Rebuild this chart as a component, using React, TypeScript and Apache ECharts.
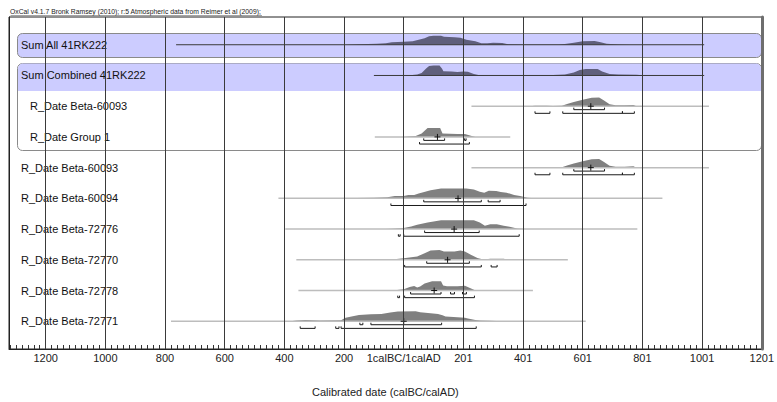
import React, { useEffect, useRef } from "react";
import * as echarts from "echarts";

const headerText =
  "OxCal v4.1.7 Bronk Ramsey (2010); r:5 Atmospheric data from Reimer et al (2009);";
const axisTitle = "Calibrated date (calBC/calAD)";

// x axis: years, negative = BC, 0 = 1calBC/1calAD boundary
const axisMin = -1323;
const axisMax = 1200;
const majorTicks = [-1200, -1000, -800, -600, -400, -200, 0, 200, 400, 600, 800, 1000, 1200];
const minorStep = 20;

const rowLabels = [
  "Sum All 41RK222",
  "Sum Combined 41RK222",
  "R_Date Beta-60093",
  "R_Date Group 1",
  "R_Date Beta-60093",
  "R_Date Beta-60094",
  "R_Date Beta-72776",
  "R_Date Beta-72770",
  "R_Date Beta-72778",
  "R_Date Beta-72771",
];
const rowKinds = ["sum", "sum", "date", "date", "date", "date", "date", "date", "date", "date"];
const rowNested = [false, false, true, true, false, false, false, false, false, false];

// extent of the (prior / likelihood) line of each row
const priorExtents: number[][] = [
  [-763, 1007],
  [-100, 1007],
  [227, 1023],
  [-97, 357],
  [227, 1023],
  [-420, 867],
  [-397, 783],
  [-360, 550],
  [-353, 433],
  [-780, 610],
];

// [year, relative probability]
const sumAll = [[-190,0],[-150,0.5],[-90,1],[-60,1.5],[-40,2.5],[0,3],[30,3.5],[50,5],[70,6.5],[85,8.5],[100,9],[125,9],[135,8],[170,7.5],[190,7],[210,5],[240,3.5],[260,1.5],[280,1.5],[300,2],[330,1.8],[350,0.5],[400,0.3],[520,0.3],[540,0.8],[570,2],[600,3.5],[640,3.8],[660,2.5],[680,1],[720,0.3],[760,0]];
const sumCombined = [[-10,0],[20,0.3],[45,1],[60,2.5],[75,7],[85,9.5],[100,10],[120,10],[128,7],[133,4.3],[160,4],[180,3.5],[200,4],[215,3.8],[235,1.5],[250,0.5],[300,0.3],[400,0.3],[500,0.5],[540,1],[570,3],[590,5.5],[610,6.5],[650,6.5],[665,4],[690,1.5],[720,1],[780,0.8],[800,0.3],[840,0.5],[860,0]];
const beta60093 = [[420,0],[440,0.5],[480,0.4],[500,0.3],[530,0.5],[550,2.5],[570,4.3],[600,6.5],[630,8.5],[655,8.7],[670,6],[690,2],[710,1],[740,1],[770,1.3],[780,0]];
const group1 = [[0,0],[15,0.3],[40,1],[60,3.5],[80,9],[122,9],[130,3.5],[180,3],[205,3],[225,1.3],[240,0]];
const beta60094 = [[-200,0],[-160,0.3],[-100,0.5],[-55,1],[-30,2.3],[0,2.5],[15,3.3],[35,3.5],[50,5],[90,8.3],[125,10],[210,10],[235,9],[255,6.7],[270,5.7],[285,7.7],[310,7.5],[325,6.3],[345,5.7],[370,3.5],[390,2.5],[415,0.7],[440,0.2],[470,0]];
const beta72776 = [[-60,0],[-40,0.3],[0,1],[25,2.7],[45,4.3],[80,6.7],[100,7.7],[125,9],[235,9],[255,6.7],[272,3.3],[290,5],[312,5],[335,3.3],[355,2.3],[380,0.7],[405,0]];
const beta72770 = [[-50,0],[-40,0.3],[0,1.5],[25,2.7],[45,3.3],[70,6.7],[90,9.3],[120,10],[135,8.5],[170,8.5],[190,9.3],[205,8.3],[225,5],[247,1.7],[260,0.7],[275,0.5],[290,1],[335,1],[350,0]];
const beta72778 = [[-45,0],[-30,0.3],[0,1.3],[20,3.5],[35,4.5],[45,3],[55,4],[70,7],[95,9.3],[125,9.3],[132,5],[145,4.3],[180,4.3],[205,4.7],[222,2.5],[237,0.5],[250,0]];
const beta72771 = [[-380,0],[-360,0.8],[-330,1.2],[-305,1],[-280,0.8],[-210,1],[-195,3.5],[-175,4.7],[-150,6.3],[-110,7],[-75,7.2],[-45,8.8],[-20,9.8],[40,10],[55,9],[90,8],[115,7.3],[130,6],[140,4.7],[180,4],[205,3.5],[215,2.7],[240,1.3],[257,0.8],[290,0.5],[310,0.2],[340,0]];
const densities = [sumAll, sumCombined, beta60093, group1, beta60093, beta60094, beta72776, beta72770, beta72778, beta72771];

// 68.2% and 95.4% ranges
const ranges68: (number[][] | null)[] = [
  null, null,
  [[570, 673]],
  [[67, 137], [204, 209]],
  [[570, 673]],
  [[67, 260], [283, 323]],
  [[70, 253]],
  [[77, 220]],
  [[23, 125], [157, 170], [197, 210]],
  [[-147, -137], [-110, 127]],
];
const ranges95: (number[][] | null)[] = [
  null, null,
  [[440, 490], [533, 733], [733, 773]],
  [[53, 220]],
  [[440, 490], [533, 733], [733, 773]],
  [[-43, 410]],
  [[-18, -12], [0, 387]],
  [[3, 260], [293, 313]],
  [[-20, -14], [3, 237]],
  [[-347, -297], [-228, -217], [-210, 243]],
];
const medians: (number | null)[] = [null, null, 627, 113, 627, 182, 169, 147, 102, 0];

// ---------- layout ----------
const W = 777;
const H = 402;
const gridTop = 17;
const gridBottomPx = 352;
const gridLeft = 9;
const gridRight = 767;
const rowFirstPx = 45;
const rowGap = 31;
const rowBase = (i: number) => rowFirstPx + rowGap * i - gridTop; // y-axis value (px units from grid top)
const rowPx = (i: number) => rowFirstPx + rowGap * i;

const FONT = "'Liberation Sans', Arial, Helvetica, sans-serif";

function fmtYear(v: number) {
  if (v === 0) return "1calBC/1calAD";
  if (v < 0) return String(-v);
  return String(v + 1);
}

function buildOption() {
  const minorTicks: number[] = [];
  for (let v = Math.ceil(axisMin / minorStep) * minorStep; v <= axisMax; v += minorStep) minorTicks.push(v);

  const series = rowLabels.map((label, i) => ({
    type: "custom",
    z: 3,
    silent: true,
    clip: false,
    data: [[priorExtents[i][0], rowBase(i)]],
    renderItem: (_params: any, api: any) => {
      const base = rowBase(i);
      const isSum = rowKinds[i] === "sum";
      const children: any[] = [];
      const dens = densities[i];
      const pts = [
        api.coord([dens[0][0], base]),
        ...dens.map(([x, h]) => api.coord([x, base - h])),
        api.coord([dens[dens.length - 1][0], base]),
      ];
      children.push({
        type: "polygon",
        shape: { points: pts },
        style: { fill: isSum ? "#5f5f7c" : "#808080" },
      });
      const a = api.coord([priorExtents[i][0], base]);
      const b = api.coord([priorExtents[i][1], base]);
      children.push({
        type: "line",
        shape: { x1: a[0], y1: a[1], x2: b[0], y2: b[1] },
        style: { stroke: isSum ? "#3a3a3a" : "#bdbdbd", lineWidth: isSum ? 1 : 1.5 },
      });
      const addBr = (rs: number[][] | null, off: number) => {
        if (!rs) return;
        rs.forEach(([f, t]) => {
          const p = api.coord([f, base + off]);
          const q = api.coord([t, base + off]);
          children.push({
            type: "polyline",
            shape: { points: [[p[0], p[1] - 2], [p[0], p[1]], [q[0], q[1]], [q[0], q[1] - 2]] },
            style: { stroke: "#1a1a1a", lineWidth: 1, fill: "none" },
          });
        });
      };
      addBr(ranges68[i], 3.5);
      addBr(ranges95[i], 7.2);
      const m = medians[i];
      if (m !== null) {
        const c = api.coord([m, base]);
        children.push({ type: "line", shape: { x1: c[0] - 3, y1: c[1], x2: c[0] + 3, y2: c[1] }, style: { stroke: "#111", lineWidth: 1 } });
        children.push({ type: "line", shape: { x1: c[0], y1: c[1] - 3, x2: c[0], y2: c[1] + 3 }, style: { stroke: "#111", lineWidth: 1 } });
      }
      const ly = api.coord([0, base])[1];
      children.push({
        type: "text",
        x: rowNested[i] ? 30 : 21,
        y: ly,
        style: { text: label, font: `11px ${FONT}`, fill: "#111", verticalAlign: "middle", align: "left" },
      });
      return { type: "group", children };
    },
  }));

  const boxL = 17;
  const boxR = 761;
  const graphic: any[] = [
    {
      type: "text",
      left: 10,
      top: 8,
      style: { text: headerText, font: `6.8px ${FONT}`, fill: "#222" },
    },
    {
      type: "line",
      shape: { x1: 10.5, y1: 15.5, x2: 262, y2: 15.5 },
      style: { stroke: "#666", lineWidth: 0.6 },
    },
    {
      type: "rect",
      z: 1,
      shape: { x: boxL + 0.5, y: rowPx(0) - 12 + 0.5, width: boxR - boxL, height: 24, r: 5 },
      style: { fill: "#ccccff", stroke: "#8a8a8a", lineWidth: 1 },
    },
    {
      type: "rect",
      z: 1,
      shape: { x: boxL + 0.5, y: rowPx(1) - 13 + 0.5, width: boxR - boxL, height: rowPx(3) + 12 - (rowPx(1) - 13), r: 5 },
      style: { fill: "#ffffff", stroke: "#8a8a8a", lineWidth: 1 },
    },
    {
      type: "rect",
      z: 1,
      shape: { x: boxL + 1, y: rowPx(1) - 12.5, width: boxR - boxL - 1, height: 27.5, r: [5, 5, 0, 0] },
      style: { fill: "#ccccff" },
    },
  ];

  return {
    animation: false,
    backgroundColor: "#ffffff",
    grid: {
      left: gridLeft,
      right: W - gridRight,
      top: gridTop,
      bottom: H - gridBottomPx,
      show: true,
      borderColor: "#222",
      borderWidth: 1,
      containLabel: false,
    },
    xAxis: [
      {
        type: "value",
        min: axisMin,
        max: axisMax,
        position: "bottom",
        name: axisTitle,
        nameLocation: "middle",
        nameGap: 37,
        nameTextStyle: { fontFamily: FONT, fontSize: 11, color: "#222" },
        axisLine: { show: true, onZero: false, lineStyle: { color: "#222", width: 1 } },
        axisTick: { show: true, inside: true, length: 4, customValues: minorTicks, lineStyle: { color: "#333" } },
        axisLabel: {
          customValues: majorTicks,
          formatter: (v: number) => fmtYear(v),
          fontFamily: FONT,
          fontSize: 11,
          color: "#222",
          margin: 3,
          hideOverlap: false,
        },
        splitLine: { show: false },
      },
      {
        type: "value",
        min: axisMin,
        max: axisMax,
        position: "top",
        z: 10,
        axisLine: { show: false, onZero: false },
        axisTick: { show: false, customValues: majorTicks },
        axisLabel: { show: false },
        splitLine: { show: true, lineStyle: { color: "#3a3a3a", width: 1 } },
      },
    ],
    yAxis: [
      {
        type: "value",
        min: 0,
        max: gridBottomPx - gridTop,
        inverse: true,
        position: "left",
        axisLine: { show: true, onZero: false, lineStyle: { color: "#222", width: 1 } },
        axisTick: { show: false },
        axisLabel: { show: false },
        splitLine: { show: false },
      },
      {
        type: "value",
        min: 0,
        max: gridBottomPx - gridTop,
        inverse: true,
        position: "right",
        z: 11,
        axisLine: { show: true, onZero: false, lineStyle: { color: "#6e6e6e", width: 3 } },
        axisTick: { show: false },
        axisLabel: { show: false },
        splitLine: { show: false },
      },
    ],
    graphic,
    series,
  };
}

export default function App() {
  const ref = useRef<HTMLDivElement>(null);
  useEffect(() => {
    if (!ref.current) return;
    const chart = echarts.init(ref.current, null, { renderer: "svg" });
    chart.setOption(buildOption() as any);
    return () => chart.dispose();
  }, []);
  return (
    <div
      ref={ref}
      style={{ position: "absolute", left: 0, top: 0, width: W, height: H, background: "#fff" }}
    />
  );
}
